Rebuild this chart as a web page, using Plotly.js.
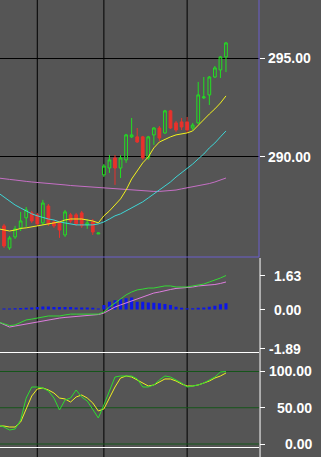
<!DOCTYPE html>
<html>
<head>
<meta charset="utf-8">
<script src="https://cdn.plot.ly/plotly-3.0.1.min.js"></script>
<style>
html,body{margin:0;padding:0;background:#555555;overflow:hidden;}
#chart{width:321px;height:457px;}
</style>
</head>
<body>
<div id="chart"></div>
<script>
// ---- candle data (bars 0..40) ----
const openP  = [286.50,285.38,285.94,286.40,286.91,287.16,287.06,286.65,287.51,286.70,286.65,286.04,287.06,287.06,287.16,286.55,286.70,286.09,289.09,289.44,289.95,289.44,289.85,291.02,291.02,291.02,289.95,291.12,291.47,291.22,292.34,291.73,291.78,291.78,291.47,291.73,293.00,293.15,294.06,294.42,295.08];
const highP  = [286.60,285.99,286.50,287.21,287.46,287.26,287.16,287.82,287.61,286.80,286.75,287.31,287.16,287.16,287.26,286.85,286.85,286.14,289.64,290.10,290.10,290.10,291.17,291.98,291.47,291.07,291.07,291.52,291.57,292.39,292.39,291.83,291.98,292.03,291.73,293.81,294.06,294.11,294.62,295.13,295.84];
const lowP   = [285.38,285.28,285.84,286.24,286.45,286.65,286.50,286.55,286.50,286.40,285.89,285.94,286.65,286.50,286.40,286.35,286.04,286.09,288.98,289.19,288.58,288.93,289.70,290.96,290.71,289.85,289.85,290.61,290.81,291.17,291.42,291.27,291.37,291.22,291.37,291.68,292.94,292.64,294.01,294.01,294.31];
const closeP = [285.48,285.89,286.35,286.75,287.31,286.75,286.60,287.66,286.60,286.50,286.29,287.21,286.75,286.60,286.50,286.65,286.19,286.14,289.54,289.85,289.44,289.95,291.12,291.12,290.76,289.95,291.02,291.47,290.96,292.34,291.47,291.37,291.52,291.37,291.62,293.15,293.05,294.06,294.52,295.08,295.79];

// ---- indicator lines (bars -1..40) ----
const maFast = [286.35,286.29,286.24,286.29,286.37,286.40,286.45,286.50,286.55,286.60,286.65,286.70,286.80,286.85,286.85,286.85,286.80,286.75,286.65,287.01,287.26,287.56,287.87,288.32,288.88,289.29,289.70,290.00,290.46,290.76,290.91,291.02,291.12,291.17,291.22,291.32,291.62,291.93,292.18,292.44,292.74,293.10];
const maMid  = [288.17,287.97,287.77,287.56,287.41,287.26,287.11,287.01,286.91,286.85,286.80,286.70,286.65,286.60,286.55,286.55,286.55,286.55,286.60,286.70,286.85,287.01,287.11,287.26,287.41,287.56,287.72,287.92,288.12,288.32,288.53,288.73,288.98,289.19,289.44,289.64,289.90,290.15,290.46,290.71,291.02,291.32];
const maSlow = [288.93,288.88,288.86,288.83,288.78,288.76,288.73,288.71,288.68,288.65,288.63,288.60,288.58,288.55,288.53,288.50,288.48,288.45,288.43,288.43,288.40,288.40,288.38,288.35,288.32,288.30,288.27,288.25,288.25,288.25,288.27,288.30,288.32,288.38,288.43,288.48,288.53,288.58,288.65,288.73,288.83,288.93];

const macdLine   = [-0.60,-0.70,-0.77,-0.74,-0.60,-0.50,-0.46,-0.41,-0.36,-0.31,-0.31,-0.31,-0.26,-0.22,-0.22,-0.22,-0.22,-0.22,-0.22,-0.12,0.12,0.31,0.50,0.70,0.84,0.94,0.98,1.03,1.03,1.08,1.13,1.13,1.08,1.08,1.08,1.13,1.18,1.22,1.32,1.41,1.51,1.63];
const signalLine = [-0.60,-0.74,-0.84,-0.79,-0.74,-0.70,-0.65,-0.60,-0.55,-0.50,-0.46,-0.41,-0.38,-0.36,-0.34,-0.31,-0.29,-0.26,-0.24,-0.17,-0.02,0.12,0.22,0.31,0.41,0.50,0.60,0.70,0.79,0.84,0.91,0.96,1.01,1.03,1.03,1.08,1.13,1.15,1.18,1.20,1.25,1.32];
const macdHist   = [0.05,0.05,0.06,0.07,0.08,0.10,0.12,0.15,0.14,0.12,0.12,0.12,0.12,0.10,0.10,0.10,0.08,0.05,0.22,0.37,0.45,0.50,0.54,0.58,0.37,0.37,0.34,0.33,0.30,0.26,0.22,0.13,0.09,0.06,0.06,0.09,0.10,0.13,0.18,0.25,0.30];

const stochK = [26.2,23.4,19.3,20.7,33.1,63.4,78.6,78.6,77.2,73.1,63.4,46.9,60.7,63.4,74.5,64.8,59.3,46.9,35.9,53.8,74.5,92.4,93.8,93.8,93.8,89.7,78.6,78.6,81.4,88.3,93.8,92.4,88.3,84.1,78.6,80.0,81.4,84.1,88.3,92.4,99.3,100.0];
const stochD = [24.8,24.8,23.4,23.4,30.3,48.3,66.2,75.9,77.2,74.5,70.3,63.4,62.1,57.9,64.8,67.6,63.4,56.6,45.5,48.3,63.4,78.6,91.0,93.8,92.4,88.3,84.1,80.0,81.4,85.5,89.7,89.7,86.9,82.8,80.0,80.0,81.4,84.1,86.9,91.0,93.8,97.9];

// ---- tick labels / separators ----
const priceTicks = [290, 295];
const macdTicks  = [-1.89, 0, 1.63];
const stochTicks = [0, 50, 100];
const dayBreaks  = [6, 18, 33];

const barX  = openP.map((_, i) => i);
const lineX = maFast.map((_, i) => i - 1);

const W = 259; // plot width in px
const H = 457;
const yPx = px => 1 - px / H;

const traces = [
  {type:'scatter', mode:'lines', x:lineX, y:maSlow, xaxis:'x', yaxis:'y', line:{color:'#c56fc5', width:1}, hoverinfo:'skip'},
  {type:'scatter', mode:'lines', x:lineX, y:maMid,  xaxis:'x', yaxis:'y', line:{color:'#3ed6d6', width:1}, hoverinfo:'skip'},
  {type:'scatter', mode:'lines', x:lineX, y:maFast, xaxis:'x', yaxis:'y', line:{color:'#f2f21c', width:1}, hoverinfo:'skip'},
  {type:'candlestick', x:barX, open:openP, high:highP, low:lowP, close:closeP, xaxis:'x', yaxis:'y',
   increasing:{line:{color:'#22e022', width:1}, fillcolor:'rgba(0,0,0,0)'},
   decreasing:{line:{color:'#e8322c', width:1}, fillcolor:'#e8322c'},
   whiskerwidth:0, hoverinfo:'skip'},
  {type:'bar', x:barX, y:macdHist, xaxis:'x', yaxis:'y2', marker:{color:'#0c16e8', line:{width:0}}, hoverinfo:'skip'},
  {type:'scatter', mode:'lines', x:lineX, y:signalLine, xaxis:'x', yaxis:'y2', line:{color:'#dd7ddd', width:1}, hoverinfo:'skip'},
  {type:'scatter', mode:'lines', x:lineX, y:macdLine, xaxis:'x', yaxis:'y2', line:{color:'#36d836', width:1}, hoverinfo:'skip'},
  {type:'scatter', mode:'lines', x:lineX, y:stochD, xaxis:'x', yaxis:'y3', line:{color:'#f0f020', width:1}, hoverinfo:'skip'},
  {type:'scatter', mode:'lines', x:lineX, y:stochK, xaxis:'x', yaxis:'y3', line:{color:'#2ede2e', width:1}, hoverinfo:'skip'}
];

const labelFont = {family:'Liberation Sans, Arial, sans-serif', size:14, color:'#ffffff', weight:'bold'};
const annotations = [];
priceTicks.forEach(v => annotations.push({xref:'paper', yref:'y', x:313/W, y:v, xanchor:'right', yanchor:'middle', text:v.toFixed(2), showarrow:false, font:labelFont}));
macdTicks.forEach(v => annotations.push({xref:'paper', yref:'y2', x:303/W, y:v, xanchor:'right', yanchor:'middle', text:v.toFixed(2), showarrow:false, font:labelFont}));
stochTicks.forEach(v => annotations.push({xref:'paper', yref:'y3', x:314/W, y:v, xanchor:'right', yanchor:'middle', text:v.toFixed(2), showarrow:false, font:labelFont}));

const shapes = [];
dayBreaks.forEach(d => shapes.push({type:'line', xref:'x', yref:'paper', x0:d, x1:d, y0:0, y1:1, line:{color:'#000000', width:1}, layer:'below'}));
// stochastic level lines
stochTicks.forEach(v => shapes.push({type:'line', xref:'paper', yref:'y3', x0:0, x1:1, y0:v, y1:v, line:{color:'#15561a', width:1}, layer:'below'}));
// panel borders
const purple = '#6a5fcc';
shapes.push({type:'line', xref:'paper', yref:'paper', x0:1, x1:1, y0:yPx(257), y1:1, line:{color:purple, width:1}});
shapes.push({type:'line', xref:'paper', yref:'paper', x0:0, x1:1, y0:yPx(257), y1:yPx(257), line:{color:purple, width:1}});
shapes.push({type:'line', xref:'paper', yref:'paper', x0:1.004, x1:1.004, y0:0, y1:yPx(258), line:{color:'#ffffff', width:1}});
shapes.push({type:'line', xref:'paper', yref:'paper', x0:0, x1:1, y0:yPx(352.5), y1:yPx(352.5), line:{color:'#ffffff', width:1}});
shapes.push({type:'line', xref:'paper', yref:'paper', x0:0, x1:1, y0:yPx(447.5), y1:yPx(447.5), line:{color:'#ffffff', width:1}});

const axisCommon = {side:'right', anchor:'x', showticklabels:false, ticks:'outside', ticklen:5, tickcolor:'#ffffff', tickwidth:1, zeroline:false, showline:false, fixedrange:true};

const layout = {
  width:321, height:457,
  margin:{l:0, r:62, t:0, b:0, pad:0},
  paper_bgcolor:'#555555', plot_bgcolor:'rgba(0,0,0,0)',
  showlegend:false,
  bargap:0.45,
  xaxis:{range:[-0.72, 45.95], visible:false, rangeslider:{visible:false}, fixedrange:true},
  yaxis:Object.assign({}, axisCommon, {domain:[yPx(257), 1], range:[284.92, 297.97], tickvals:priceTicks, showgrid:true, gridcolor:'#000000', gridwidth:1}),
  yaxis2:Object.assign({}, axisCommon, {domain:[yPx(352.7), yPx(258)], range:[-2.07, 2.47], tickvals:macdTicks, showgrid:false}),
  yaxis3:Object.assign({}, axisCommon, {domain:[yPx(447), yPx(353)], range:[-4.14, 125.5], tickvals:stochTicks, showgrid:false}),
  annotations:annotations,
  shapes:shapes
};

Plotly.newPlot('chart', traces, layout, {staticPlot:true, displayModeBar:false});
</script>
</body>
</html>
